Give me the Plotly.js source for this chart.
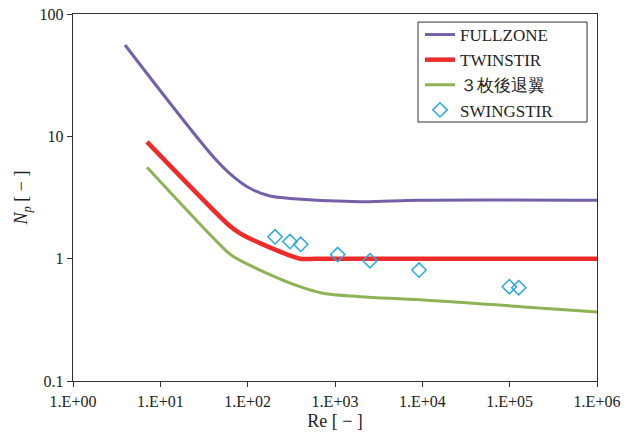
<!DOCTYPE html>
<html><head><meta charset="utf-8">
<script src="https://cdn.plot.ly/plotly-3.0.1.min.js"></script>
<style>html,body{margin:0;padding:0;background:#fff}#c{width:632px;height:436px}</style>
</head><body><div id="c"></div>
<script>
const fullRe = [3.94, 40.4, 68.5, 106, 180, 305, 1933, 9400, 1e6];
const fullNp = [55.8, 6.81, 4.68, 3.76, 3.25, 3.11, 2.92, 3.0, 3.0];
const twinRe = [7.04, 57.5, 81.7, 138, 397, 700, 1e4, 1e6];
const twinNp = [9.0, 1.95, 1.61, 1.34, 1.0, 1.0, 1.0, 1.0];
const bladeRe = [7.04, 52.6, 68.5, 138, 397, 729, 1933, 10190, 1e6];
const bladeNp = [5.58, 1.22, 1.04, 0.807, 0.590, 0.521, 0.489, 0.46, 0.366];
const swingRe = [206, 305, 405, 1074, 2517, 9160, 99100, 127000];
const swingNp = [1.51, 1.38, 1.31, 1.08, 0.962, 0.807, 0.590, 0.579];
const xTickVals = [1, 10, 100, 1000, 10000, 100000, 1000000];
const xTickText = ["1.E+00","1.E+01","1.E+02","1.E+03","1.E+04","1.E+05","1.E+06"];
const yTickVals = [0.1, 1, 10, 100];
const yTickText = ["0.1","1","10","100"];
const names = ["FULLZONE","TWINSTIR","３枚後退翼","SWINGSTIR"];

const serif = "Liberation Serif, serif";
const lg = s => "<span style=\"font-family:'Liberation Serif',serif\">" + s + "</span>";
const traces = [
  {x: fullRe, y: fullNp, name: lg(names[0]), mode: "lines", line: {color: "#7560a8", width: 3, shape: "spline", smoothing: 0.9}},
  {x: twinRe, y: twinNp, name: lg(names[1]), mode: "lines", line: {color: "#ee2b2b", width: 4.5, shape: "spline", smoothing: 0.6}},
  {x: bladeRe, y: bladeNp, name: lg(names[2]), mode: "lines", line: {color: "#8db356", width: 3, shape: "spline", smoothing: 1.0}},
  {x: swingRe, y: swingNp, name: lg(names[3]), mode: "markers",
   marker: {symbol: "diamond-open", size: 11, color: "#2ba9e0", line: {width: 1.5}}}
];
const layout = {
  width: 632, height: 436,
  margin: {l: 73, r: 35, t: 14, b: 55},
  paper_bgcolor: "#fff", plot_bgcolor: "#fff",
  font: {family: serif, size: 16, color: "#222"},
  showlegend: true,
  legend: {x: 0.6622, y: 0.9918, xanchor: "left", yanchor: "top",
    borderwidth: 0, bgcolor: "rgba(0,0,0,0)",
    font: {family: serif, size: 17, color: "#222"}},
  shapes: [{type: "rect", xref: "paper", yref: "paper",
    x0: 0.6584, x1: 0.981, y0: 0.7057, y1: 0.978,
    line: {color: "#333", width: 1}, fillcolor: "rgba(0,0,0,0)", layer: "above"}],
  xaxis: {type: "log", range: [0, 6], tickvals: xTickVals, ticktext: xTickText,
    ticks: "outside", ticklen: 5, tickcolor: "#333", showgrid: false, zeroline: false,
    showline: true, linecolor: "#333", linewidth: 1.3, mirror: true,
    tickfont: {family: serif, size: 16, color: "#222"},
    title: {text: "Re [ − ]", font: {family: serif, size: 18, color: "#222"}, standoff: 6}},
  yaxis: {type: "log", range: [-1, 2], tickvals: yTickVals, ticktext: yTickText,
    ticks: "outside", ticklen: 5, tickcolor: "#333", showgrid: false, zeroline: false,
    showline: true, linecolor: "#333", linewidth: 1.3, mirror: true,
    tickfont: {family: serif, size: 16, color: "#222"},
    title: {text: "<i>N</i><sub><i>p</i></sub> [ − ]", font: {family: serif, size: 18, color: "#222"}, standoff: 7}}
};
Plotly.newPlot("c", traces, layout, {displayModeBar: false, staticPlot: true});
</script></body></html>
